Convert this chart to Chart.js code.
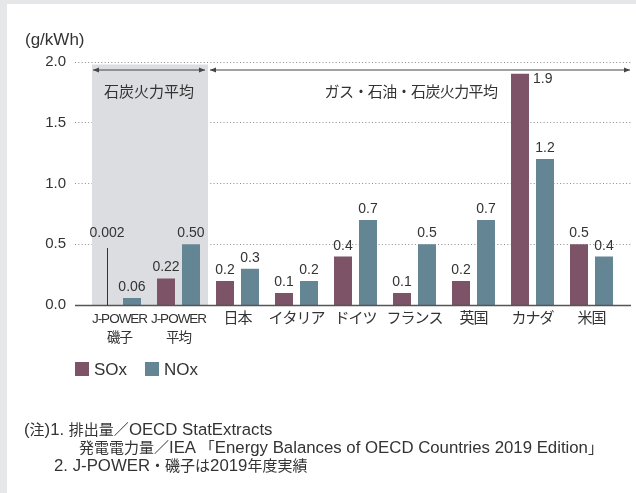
<!DOCTYPE html>
<html>
<head>
<meta charset="utf-8">
<script src="https://cdn.jsdelivr.net/npm/chart.js@4/dist/chart.umd.min.js"></script>
<style>
  body { margin: 0; background: #e6e7e9; font-family: "Liberation Sans", "Noto Sans CJK JP", sans-serif; color: #333; }
  #panel { position: absolute; left: 7px; top: 4px; width: 629px; height: 489px; background: #fff; overflow: hidden; }
  #chart { position: absolute; left: 0; top: 0; }
  .unit { position: absolute; left: 18px; top: 26px; font-size: 17px; }
  .legend { position: absolute; top: 357px; font-size: 17px; line-height: 17px; }
  .legend span { display: inline-block; width: 14px; height: 14px; vertical-align: -1px; margin-right: 5px; }
  .note { position: absolute; font-size: 15px; line-height: 18px; white-space: nowrap; }
  .note b { font-weight: normal; font-size: 16.8px; }
</style>
</head>
<body>
<div id="panel">
  <canvas id="chart" width="629" height="489"></canvas>
  <div class="unit">(g/kWh)</div>
  <div class="legend" style="left:68px"><span style="background:#7c5367"></span>SOx</div>
  <div class="legend" style="left:138px"><span style="background:#648594"></span>NOx</div>
  <div class="note" style="left:17px;top:417px"><b>(</b>注<b>)1. </b>排出量／<b>OECD StatExtracts</b></div>
  <div class="note" style="left:72px;top:435px">発電電力量／<b>IEA </b>「<b>Energy Balances of OECD Countries 2019 Edition</b>」</div>
  <div class="note" style="left:47px;top:453px"><b>2. J-POWER</b>・磯子は<b>2019</b>年度実績</div>
</div>
<script>
const categories = [["J-POWER", "磯子"], ["J-POWER", "平均"], "日本", "イタリア", "ドイツ", "フランス", "英国", "カナダ", "米国"];
const soxValues = [0.002, 0.22, 0.2, 0.1, 0.4, 0.1, 0.2, 1.9, 0.5];
const noxValues = [0.06, 0.50, 0.3, 0.2, 0.7, 0.5, 0.7, 1.2, 0.4];
const soxDecimals = [3, 2, 1, 1, 1, 1, 1, 1, 1];
const noxDecimals = [2, 2, 1, 1, 1, 1, 1, 1, 1];
const yTicks = [0, 0.5, 1.0, 1.5, 2.0];
const groupTitles = ["石炭火力平均", "ガス・石油・石炭火力平均"];
const groupSpans = [[0, 1], [2, 8]];

const latin = '"Liberation Sans", "Noto Sans CJK JP", sans-serif';
const cjk = '"Noto Sans CJK JP", sans-serif';

const decor = {
  id: "decor",
  beforeDatasetsDraw(chart) {
    const { ctx, chartArea, scales: { x, y } } = chart;
    ctx.save();
    // dotted grid
    ctx.strokeStyle = "#8c8c8c";
    ctx.lineWidth = 1;
    ctx.setLineDash([1, 2.3]);
    yTicks.slice(1).forEach((v) => {
      const py = Math.round(y.getPixelForValue(v)) + 0.5;
      ctx.beginPath();
      ctx.moveTo(chartArea.left - 15, py);
      ctx.lineTo(chartArea.right + 10, py);
      ctx.stroke();
    });
    ctx.setLineDash([]);
    // shaded coal block
    const half = (x.getPixelForValue(1) - x.getPixelForValue(0)) / 2;
    const bx0 = x.getPixelForValue(0) - half + 2;
    const bx1 = x.getPixelForValue(1) + half;
    ctx.fillStyle = "#dcdde0";
    ctx.fillRect(bx0, chartArea.top + 3, bx1 - bx0, y.getPixelForValue(0) - chartArea.top - 3);
    ctx.restore();
  },
  afterDatasetsDraw(chart) {
    const { ctx, chartArea, scales: { x, y } } = chart;
    const half = (x.getPixelForValue(1) - x.getPixelForValue(0)) / 2;
    const arrowY = chartArea.top + 8.5;
    ctx.save();
    // baseline
    const by = Math.round(y.getPixelForValue(0)) + 0.5;
    ctx.strokeStyle = "#555";
    ctx.lineWidth = 1.3;
    ctx.beginPath();
    ctx.moveTo(chartArea.left - 15, by);
    ctx.lineTo(chartArea.right + 10, by);
    ctx.stroke();

    // range arrows + titles
    ctx.strokeStyle = "#444";
    ctx.fillStyle = "#444";
    ctx.lineWidth = 1;
    groupSpans.forEach(([a, b], i) => {
      const x0 = x.getPixelForValue(a) - half + (i === 0 ? 3 : 2);
      const x1 = i === 0 ? x.getPixelForValue(b) + half - 3 : chartArea.right + 9;
      ctx.beginPath();
      ctx.moveTo(x0, arrowY);
      ctx.lineTo(x1, arrowY);
      ctx.stroke();
      [[x0, 1], [x1, -1]].forEach(([px, d]) => {
        ctx.beginPath();
        ctx.moveTo(px, arrowY);
        ctx.lineTo(px + d * 6, arrowY - 2.5);
        ctx.lineTo(px + d * 6, arrowY + 2.5);
        ctx.closePath();
        ctx.fill();
      });
      ctx.fillStyle = "#333";
      ctx.font = "15px " + cjk;
      ctx.textAlign = "center";
      ctx.textBaseline = "middle";
      const cx = i === 0 ? (x0 + x1) / 2 : 404;
      ctx.letterSpacing = i === 0 ? "0px" : "-0.6px";
      ctx.fillText(groupTitles[i], cx, arrowY + 21);
      ctx.letterSpacing = "0px";
      ctx.fillStyle = "#444";
    });

    // value labels
    ctx.fillStyle = "#333";
    ctx.font = "14px " + latin;
    ctx.textBaseline = "alphabetic";
    const decs = [soxDecimals, noxDecimals];
    chart.data.datasets.forEach((ds, di) => {
      chart.getDatasetMeta(di).data.forEach((el, i) => {
        const v = ds.data[i];
        const txt = v.toFixed(decs[di][i]);
        if (v < 0.01) {
          const top = y.getPixelForValue(0.47);
          ctx.strokeStyle = "#333";
          ctx.lineWidth = 1;
          ctx.beginPath();
          ctx.moveTo(Math.round(el.x) + 0.5, by);
          ctx.lineTo(Math.round(el.x) + 0.5, top);
          ctx.stroke();
          ctx.textAlign = "center";
          ctx.fillText(txt, el.x, y.getPixelForValue(0.5) - 7);
        } else if (el.y < arrowY + 16) {
          ctx.textAlign = "left";
          ctx.fillText(txt, el.x + el.width / 2 + 4, el.y + 9);
        } else {
          ctx.textAlign = "center";
          ctx.fillText(txt, el.x, el.y - 7);
        }
      });
    });
    ctx.restore();
    // x tick labels (z: 1) are drawn right after this; tighten them like the condensed original
    ctx.letterSpacing = "-1px";
  },
  afterDraw(chart) {
    chart.ctx.letterSpacing = "0px";
  },
};

new Chart(document.getElementById("chart"), {
  type: "bar",
  data: {
    labels: categories,
    datasets: [
      { label: "SOx", data: soxValues, backgroundColor: "#7c5367" },
      { label: "NOx", data: noxValues, backgroundColor: "#648594" },
    ],
  },
  options: {
    responsive: false,
    animation: false,
    devicePixelRatio: 1,
    categoryPercentage: 0.847,
    barPercentage: 0.72,
    layout: { padding: { top: 57.5, right: 15, bottom: 147.7, left: 0 } },
    plugins: { legend: { display: false }, tooltip: { enabled: false } },
    scales: {
      x: {
        grid: { display: false, drawTicks: false },
        border: { display: false },
        ticks: {
          z: 1,
          color: "#333",
          padding: 4,
          maxRotation: 0,
          autoSkip: false,
          font: (c) => ({
            family: '"Liberation Sans", "Noto Sans CJK JP", sans-serif',
            size: c.index < 2 ? 13.5 : 15,
            lineHeight: "19px",
          }),
        },
        afterFit(scale) { scale.height = 40; },
      },
      y: {
        min: 0,
        max: 2,
        grid: { display: false, drawTicks: false },
        border: { display: false },
        ticks: {
          stepSize: 0.5,
          padding: 24,
          color: "#333",
          font: { family: latin, size: 15 },
          callback: (v) => v.toFixed(1),
        },
        afterFit(scale) { scale.width = 83; },
      },
    },
  },
  plugins: [decor],
});
</script>
</body>
</html>
